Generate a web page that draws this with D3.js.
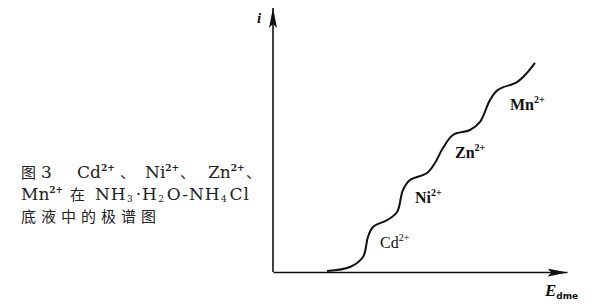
<!DOCTYPE html>
<html>
<head>
<meta charset="utf-8">
<script src="https://cdn.jsdelivr.net/npm/d3@7"></script>
<style>
  body { margin: 0; background: #fff; }
  svg { display: block; }
</style>
</head>
<body>
<svg id="chart" width="600" height="307"></svg>
<script>
// polarogram (arbitrary units, 0..100 on each axis)
const potential = [18.4, 26.2, 30.6, 32.3, 34.0, 38.8, 42.2, 44.2, 46.6, 52.4,
  55.1, 57.8, 61.2, 67.0, 70.4, 73.8, 76.5, 83.0, 86.4, 89.1];
const current = [0.4, 1.9, 5.7, 13.4, 17.2, 19.8, 22.9, 31.3, 35.1, 37.8,
  41.6, 47.3, 52.3, 54.2, 57.3, 65.6, 69.5, 72.5, 76.0, 79.8];

const ions = ["Cd", "Ni", "Zn", "Mn"];
const ionE = [36.4, 48.3, 61.9, 80.6];
const ionI = [9.2, 26.3, 43.5, 61.8];

// caption: lines -> segments -> [text, kind]
const captionLines = [
  [[["图", "cjk"]], [["3", "lat"]], [["Cd", "lat"], ["2+", "sup"]], [["、", "cjk"]],
   [["Ni", "lat"], ["2+", "sup"]], [["、", "cjk"]], [["Zn", "lat"], ["2+", "sup"]], [["、", "cjk"]]],
  [[["Mn", "lat"], ["2+", "sup"]], [["在", "cjk"]],
   [["NH", "lat"], ["3", "sub"], ["·H", "lat"], ["2", "sub"], ["O-NH", "lat"], ["4", "sub"], ["Cl", "lat"]]],
  [[["底液中的极谱图", "cjk"]]]
];

const svg = d3.select("#chart");
const margin = { top: 10, right: 33, bottom: 35, left: 273 };
const width = 600, height = 307;

const x = d3.scaleLinear().domain([0, 100]).range([margin.left, width - margin.right]);
const y = d3.scaleLinear().domain([0, 100]).range([height - margin.bottom, margin.top]);

// arrowheads
const defs = svg.append("defs");
defs.append("marker")
  .attr("id", "arrow")
  .attr("viewBox", "0 0 20 8")
  .attr("refX", 20).attr("refY", 4)
  .attr("markerWidth", 20).attr("markerHeight", 8)
  .attr("markerUnits", "userSpaceOnUse")
  .attr("orient", "auto")
  .append("path")
  .attr("d", "M0,0 L20,4 L0,8 L4,4 Z")
  .attr("fill", "#111");

const xAxis = g => g
  .attr("transform", `translate(0,${y(0)})`)
  .call(d3.axisBottom(x).tickValues([]).tickSizeOuter(0))
  .call(g => g.select(".domain")
    .attr("stroke", "#111").attr("stroke-width", 1.6)
    .attr("marker-end", "url(#arrow)"));

const yAxis = g => g
  .attr("transform", `translate(${x(0)},0)`)
  .call(d3.axisLeft(y).tickValues([]).tickSizeOuter(0))
  .call(g => g.select(".domain")
    .attr("stroke", "#111").attr("stroke-width", 1.6)
    .attr("d", `M0,${y(0)}V${y(100) - 2}`)
    .attr("marker-end", "url(#arrow)"));

svg.append("g").call(xAxis);
svg.append("g").call(yAxis);

// axis titles
svg.append("text")
  .attr("x", x(0) - 16).attr("y", y(100) + 13)
  .attr("font-family", "Liberation Serif").attr("font-style", "italic")
  .attr("font-weight", "bold").attr("font-size", 15)
  .attr("fill", "#111")
  .text("i");

const eLabel = svg.append("text")
  .attr("x", x(92.5)).attr("y", y(0) + 24)
  .attr("font-family", "Liberation Serif").attr("font-style", "italic")
  .attr("font-weight", "bold").attr("font-size", 17)
  .attr("fill", "#111");
eLabel.append("tspan").text("E");
eLabel.append("tspan").attr("font-size", 9).attr("dy", 3)
  .attr("font-family", "DejaVu Sans").attr("font-style", "normal").text("dme");

// the polarographic wave
const line = d3.line()
  .x((d, i) => x(potential[i]))
  .y((d, i) => y(current[i]))
  .curve(d3.curveCatmullRom.alpha(0.5));

svg.append("path")
  .datum(potential)
  .attr("d", line)
  .attr("fill", "none")
  .attr("stroke", "#111")
  .attr("stroke-width", 2);

// ion labels
ions.forEach((name, i) => {
  const t = svg.append("text")
    .attr("x", x(ionE[i])).attr("y", y(ionI[i]))
    .attr("font-family", "Liberation Serif")
    .attr("font-weight", name === "Cd" ? "normal" : "bold")
    .attr("font-size", 16)
    .attr("fill", "#111");
  t.append("tspan").text(name);
  t.append("tspan").attr("font-size", 10).attr("dy", -7).text("2+");
});

// caption layout
const lineY = [178, 200, 222];
const segX = [[21, 41, 77, 120, 145, 180, 208, 246], [21, 70, 95], [21]];
const segSpacing = [[], [0, 0, 0.9], [5]];
const cap = svg.append("g").attr("fill", "#222");
captionLines.forEach((segs, li) => {
  segs.forEach((parts, si) => {
    const t = cap.append("text")
      .attr("x", segX[li][si]).attr("y", lineY[li]);
    if (segSpacing[li][si]) t.attr("letter-spacing", segSpacing[li][si]);
    let prev = null;
    parts.forEach(([s, kind]) => {
      const span = t.append("tspan").text(s);
      if (kind === "cjk") span.attr("font-family", "Noto Sans CJK SC").attr("font-size", 15);
      else span.attr("font-family", "DejaVu Serif").attr("font-size", 17);
      if (kind === "sup") span.attr("font-size", 9).attr("dy", -7).attr("font-weight", "bold");
      if (kind === "sub") span.attr("font-size", 9).attr("dy", 2).attr("dx", 0.5);
      if (prev === "sup") span.attr("dy", 7);
      if (prev === "sub") span.attr("dy", -2).attr("dx", 2);
      prev = kind;
    });
  });
});
</script>
</body>
</html>
